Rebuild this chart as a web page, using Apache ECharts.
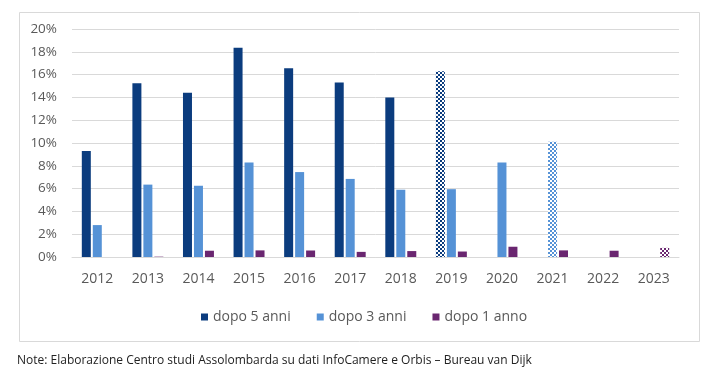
<!DOCTYPE html>
<html>
<head>
<meta charset="utf-8">
<script src="https://cdn.jsdelivr.net/npm/echarts@6/dist/echarts.min.js"></script>
<style>
html,body{margin:0;padding:0;background:#fff;}
#chart{width:707px;height:386px;}
</style>
</head>
<body>
<div id="chart"></div>
<script>
const categories = ['2012','2013','2014','2015','2016','2017','2018','2019','2020','2021','2022','2023'];
const seriesNames = ['dopo 5 anni','dopo 3 anni','dopo 1 anno'];
const dopo5 = [9.3, 15.25, 14.4, 18.35, 16.55, 15.3, 14.0, 16.3, null, null, null, null];
const dopo3 = [2.8, 6.35, 6.25, 8.3, 7.45, 6.85, 5.9, 5.95, 8.3, 10.1, null, null];
const dopo1 = [null, 0.03, 0.55, 0.58, 0.57, 0.45, 0.52, 0.48, 0.9, 0.58, 0.55, 0.8];
// which points are drawn with a checkered (estimate) pattern
const patterned5 = ['2019'];
const patterned3 = ['2021'];
const patterned1 = ['2023'];
const yTicks = [0, 2, 4, 6, 8, 10, 12, 14, 16, 18, 20];

const colors = ['#0b3c7e', '#5592d6', '#6a2670'];

function checker(color) {
  const c = document.createElement('canvas');
  c.width = 4; c.height = 4;
  const ctx = c.getContext('2d');
  ctx.fillStyle = '#ffffff';
  ctx.fillRect(0, 0, 4, 4);
  ctx.fillStyle = color;
  ctx.fillRect(0, 0, 2, 2);
  ctx.fillRect(2, 2, 2, 2);
  return { image: c, repeat: 'repeat' };
}

function build(values, color, patterned) {
  return values.map((v, i) => {
    if (v === null) return null;
    if (patterned.indexOf(categories[i]) >= 0) {
      return { value: v, itemStyle: { color: checker(color) } };
    }
    return v;
  });
}

const font = '"Open Sans", sans-serif';
const chart = echarts.init(document.getElementById('chart'));
chart.setOption({
  animation: false,
  backgroundColor: '#ffffff',
  graphic: [
    { type: 'rect', left: 17, top: 10, shape: { width: 680, height: 329 },
      style: { fill: 'none', stroke: '#d9d9d9', lineWidth: 1 }, silent: true, z: -1 },
    { type: 'text', left: 17, top: 355,
      style: { text: 'Note: Elaborazione Centro studi Assolombarda su dati InfoCamere e Orbis – Bureau van Dijk',
               fill: '#222', font: '12px "Open Sans", sans-serif' } }
  ],
  grid: { left: 72, right: 28, top: 29, bottom: 129 },
  legend: {
    data: seriesNames,
    left: 196, top: 305,
    icon: 'rect', itemWidth: 7, itemHeight: 7, itemGap: 26,
    textStyle: { color: '#595959', fontFamily: font, fontSize: 14 }
  },
  xAxis: {
    type: 'category', data: categories,
    axisLine: { lineStyle: { color: '#d9d9d9' } },
    axisTick: { show: false },
    axisLabel: { color: '#595959', fontFamily: font, fontSize: 14, margin: 15 }
  },
  yAxis: {
    type: 'value', min: 0, max: 20, interval: 2,
    axisLabel: { color: '#595959', fontFamily: font, fontSize: 13.5, margin: 15,
                 formatter: v => v + '%' },
    splitLine: { lineStyle: { color: '#d9d9d9' } },
    axisLine: { show: false }, axisTick: { show: false }
  },
  series: [
    { name: seriesNames[0], type: 'bar', barWidth: 9, barGap: '22%',
      itemStyle: { color: colors[0] }, data: build(dopo5, colors[0], patterned5) },
    { name: seriesNames[1], type: 'bar', barWidth: 9, barGap: '22%',
      itemStyle: { color: colors[1] }, data: build(dopo3, colors[1], patterned3) },
    { name: seriesNames[2], type: 'bar', barWidth: 9, barGap: '22%',
      itemStyle: { color: colors[2] }, data: build(dopo1, colors[2], patterned1) }
  ]
});
</script>
</body>
</html>
